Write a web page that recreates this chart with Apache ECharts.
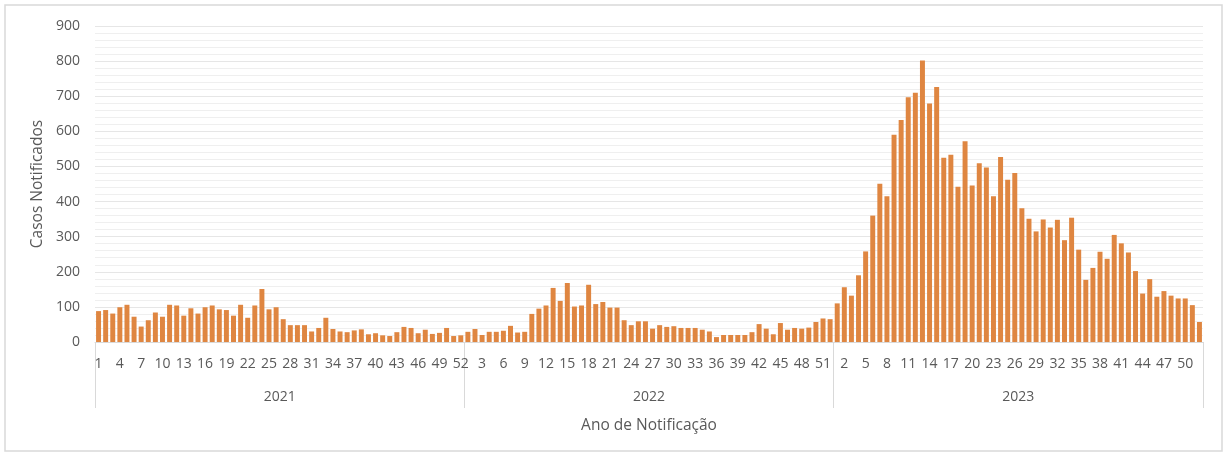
<!DOCTYPE html>
<html>
<head>
<meta charset="UTF-8">
<script src="https://cdn.jsdelivr.net/npm/echarts@6/dist/echarts.min.js"></script>
<style>
  html, body { margin: 0; padding: 0; background: #fff; }
  #chart { width: 1227px; height: 455px; }
</style>
</head>
<body>
<div id="chart"></div>
<script>
// casos notificados por semana epidemiológica
var years = ['2021', '2022', '2023'];
var cases2021 = [88,91,81,99,106,72,44,62,84,72,106,104,75,96,81,99,104,93,91,75,106,69,104,151,93,99,
                 65,48,48,48,30,40,69,37,30,28,33,36,22,25,19,17,28,43,40,25,35,23,26,40,17,19];
var cases2022 = [29,37,20,29,29,32,46,27,29,80,95,104,154,117,168,101,104,163,108,114,98,98,62,48,59,59,
                 38,48,43,45,40,40,40,35,30,14,20,20,20,20,28,51,38,22,54,35,40,38,41,57,67,65];
var cases2023 = [110,156,132,190,258,360,451,415,590,632,697,710,802,679,726,525,533,442,572,446,509,497,415,527,462,481,
                 381,351,315,349,326,348,290,354,263,177,211,257,237,305,281,255,202,138,179,129,145,132,124,124,105,57];

// semanas 1..52 de cada ano
var weeks = [];
var values = [];
[cases2021, cases2022, cases2023].forEach(function (arr) {
    for (var i = 0; i < arr.length; i++) {
        weeks.push(String(i + 1));
        values.push(arr[i]);
    }
});

var txt = '#595959';
var font = 'Open Sans';

var chart = echarts.init(document.getElementById('chart'));
chart.setOption({
    animation: false,
    textStyle: { fontFamily: font },
    graphic: [{
        type: 'rect',
        shape: { x: 5, y: 5, width: 1217, height: 446 },
        style: { fill: 'none', stroke: '#d9d9d9', lineWidth: 1.5 },
        silent: true
    }],
    grid: { left: 95, right: 24, top: 26, bottom: 113 },
    xAxis: [{
        type: 'category',
        data: weeks,
        axisLine: { lineStyle: { color: '#d9d9d9' } },
        axisTick: { show: false },
        axisLabel: { interval: 2, color: txt, fontSize: 14, margin: 15, fontFamily: font }
    }, {
        type: 'category',
        data: years,
        position: 'bottom',
        axisLine: { show: false },
        axisTick: { show: true, length: 66, lineStyle: { color: '#d9d9d9' } },
        axisLabel: { color: txt, fontSize: 14, margin: 48, fontFamily: font },
        name: 'Ano de Notificação',
        nameLocation: 'middle',
        nameGap: 76,
        nameTextStyle: { color: txt, fontSize: 15.5, fontFamily: font }
    }],
    yAxis: {
        type: 'value',
        min: 0,
        max: 900,
        interval: 100,
        name: 'Casos Notificados',
        nameLocation: 'middle',
        nameGap: 42,
        nameTextStyle: { color: txt, fontSize: 15.5, fontFamily: font },
        axisLine: { show: false },
        axisTick: { show: false },
        axisLabel: { color: txt, fontSize: 14, margin: 15, fontFamily: font },
        splitLine: { lineStyle: { color: '#e6e6e6' } },
        minorTick: { show: false, splitNumber: 5 },
        minorSplitLine: { show: true, lineStyle: { color: '#efefef' } }
    },
    series: [{
        type: 'bar',
        xAxisIndex: 0,
        data: values,
        barCategoryGap: '30%',
        itemStyle: { color: '#df8641' }
    }]
});
</script>
</body>
</html>
